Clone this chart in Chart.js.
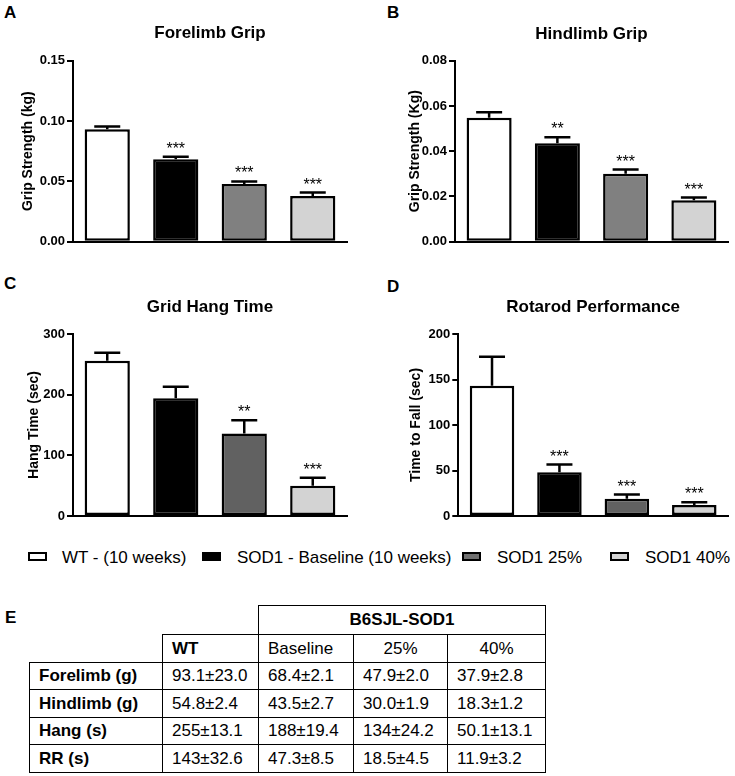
<!DOCTYPE html>
<html>
<head>
<meta charset="utf-8">
<script src="https://cdn.jsdelivr.net/npm/chart.js@4.4.0/dist/chart.umd.min.js"></script>
<style>
  body { margin: 0; background: #fff; width: 735px; height: 776px; position: relative; overflow: hidden;
         font-family: "Liberation Sans", Arial, sans-serif; color: #000; }
  canvas { position: absolute; }
  .tag { position: absolute; font-weight: bold; font-size: 17px; line-height: 17px; }
  .leg-box { position: absolute; top: 552px; width: 15px; height: 4.5px; border: 2.5px solid #000; }
  .leg-txt { position: absolute; top: 547px; font-size: 17px; line-height: 22px; white-space: nowrap; }
  table { position: absolute; left: 29px; top: 605px; border-collapse: collapse; table-layout: fixed; font-size: 17px; }
  td { padding: 0 0 0 9px; border: 1.5px solid #000; white-space: nowrap; vertical-align: middle; }
  td.blank { border: none; }
  td.b { font-weight: bold; }
  td.c { text-align: center; padding: 0; }
</style>
</head>
<body>
<div class="tag" style="left:4px;top:4px">A</div>
<div class="tag" style="left:387px;top:4px">B</div>
<div class="tag" style="left:4px;top:275px">C</div>
<div class="tag" style="left:387px;top:278px">D</div>
<div class="tag" style="left:5px;top:609px">E</div>

<canvas id="cA" width="365" height="254" style="left:0;top:0"></canvas>
<canvas id="cB" width="370" height="254" style="left:365px;top:0"></canvas>
<canvas id="cC" width="365" height="268" style="left:0;top:260px"></canvas>
<canvas id="cD" width="370" height="268" style="left:365px;top:260px"></canvas>

<div id="legend"></div>
<table id="tbl"></table>

<script>
// groups shown in every panel
const groups = ['WT - (10 weeks)', 'SOD1 - Baseline (10 weeks)', 'SOD1 25%', 'SOD1 40%'];

// A - forelimb grip (kg)
const foreMean = [0.0931, 0.0684, 0.0479, 0.0379];
const foreErr = [0.0023, 0.0021, 0.0020, 0.0028];
const foreStars = ['', '***', '***', '***'];
const foreTicks = [0, 0.05, 0.10, 0.15];

// B - hindlimb grip (kg)
const hindMean = [0.0548, 0.0435, 0.0300, 0.0183];
const hindErr = [0.0024, 0.0027, 0.0019, 0.0012];
const hindStars = ['', '**', '***', '***'];
const hindTicks = [0, 0.02, 0.04, 0.06, 0.08];

// C - grid hang time (sec)
const hangMean = [256, 194, 136, 50];
const hangErr = [13, 19, 22, 13];
const hangStars = ['', '', '**', '***'];
const hangTicks = [0, 100, 200, 300];

// D - rotarod (sec)
const rrMean = [143, 48, 19, 12];
const rrErr = [32, 8.5, 4.5, 3];
const rrStars = ['', '***', '***', '***'];
const rrTicks = [0, 50, 100, 150, 200];

// E - table
const tblGroup = 'B6SJL-SOD1';
const tblCols = ['WT', 'Baseline', '25%', '40%'];
const tblRows = ['Forelimb (g)', 'Hindlimb (g)', 'Hang (s)', 'RR (s)'];
const tblVals = [
  ['93.1±23.0', '68.4±2.1', '47.9±2.0', '37.9±2.8'],
  ['54.8±2.4', '43.5±2.7', '30.0±1.9', '18.3±1.2'],
  ['255±13.1', '188±19.4', '134±24.2', '50.1±13.1'],
  ['143±32.6', '47.3±8.5', '18.5±4.5', '11.9±3.2']
];

const FONT = '"Liberation Sans", Arial, sans-serif';
Chart.defaults.font.family = FONT;
Chart.defaults.color = '#000';

const fillLight = ['#ffffff', '#000000', '#808080', '#d3d3d3'];
const fillDark = ['#ffffff', '#000000', '#616161', '#d3d3d3'];

// error bars + significance stars on top of the bars
const errorBars = {
  id: 'errorBars',
  afterDatasetsDraw(chart) {
    const ctx = chart.ctx;
    const y = chart.scales.y;
    const ds = chart.data.datasets[0];
    const meta = chart.getDatasetMeta(0);
    ctx.save();
    ctx.strokeStyle = '#000';
    ctx.lineWidth = 2.5;
    ctx.fillStyle = '#000';
    ctx.font = '16px ' + FONT;
    ctx.textAlign = 'center';
    ctx.textBaseline = 'alphabetic';
    meta.data.forEach((bar, i) => {
      const top = y.getPixelForValue(ds.data[i] + ds.errors[i]);
      const half = 13;
      ctx.beginPath();
      ctx.moveTo(bar.x, bar.y);
      ctx.lineTo(bar.x, top);
      ctx.moveTo(bar.x - half, top);
      ctx.lineTo(bar.x + half, top);
      ctx.stroke();
      if (ds.stars[i]) ctx.fillText(ds.stars[i], bar.x, top - 3);
    });
    ctx.restore();
  }
};

function panel(cfg) {
  const canvas = document.getElementById(cfg.id);
  const W = canvas.width, H = canvas.height;
  const tLine = 17 * 1.2;
  const padLeft = cfg.yTitleX - 14 * 1.2 / 2;
  const padTop = cfg.titleY - tLine / 2;
  const gap = cfg.top - cfg.titleY - tLine / 2;
  new Chart(canvas, {
    type: 'bar',
    data: {
      labels: groups,
      datasets: [{
        data: cfg.mean,
        errors: cfg.err,
        stars: cfg.stars,
        backgroundColor: cfg.fill,
        borderColor: '#000',
        borderWidth: 2.5,
        borderSkipped: false,
        barPercentage: 0.66,
        categoryPercentage: 1
      }]
    },
    options: {
      responsive: false,
      animation: false,
      devicePixelRatio: 1,
      layout: { padding: { left: padLeft, top: padTop, right: W - cfg.right, bottom: H - cfg.bottom } },
      plugins: {
        legend: { display: false },
        tooltip: { enabled: false },
        title: {
          display: true, text: cfg.title, fullSize: false, color: '#000',
          font: { size: 17, weight: 'bold' }, padding: { top: 0, bottom: gap }
        }
      },
      scales: {
        x: {
          ticks: { display: false },
          grid: { display: false },
          border: { display: true, color: '#000', width: 2 },
          afterFit: s => { s.height = 0; }
        },
        y: {
          min: cfg.ticks[0],
          max: cfg.ticks[cfg.ticks.length - 1],
          afterBuildTicks: s => { s.ticks = cfg.ticks.map(v => ({ value: v })); },
          afterFit: s => { s.width = cfg.axisX - padLeft; },
          ticks: {
            padding: 2, color: '#000',
            font: { size: 13, weight: 'bold' },
            callback: v => Number(v).toFixed(cfg.dec)
          },
          grid: { drawOnChartArea: false, drawTicks: true, tickLength: 6, color: '#000', lineWidth: 2 },
          border: { display: true, color: '#000', width: 2 },
          title: {
            display: true, text: cfg.yTitle, color: '#000',
            font: { size: 14, weight: 'bold' }, padding: 0
          }
        }
      }
    },
    plugins: [errorBars]
  });
}

panel({ id: 'cA', title: 'Forelimb Grip', yTitle: 'Grip Strength (kg)', mean: foreMean, err: foreErr,
        stars: foreStars, ticks: foreTicks, dec: 2, fill: fillLight,
        axisX: 73, yTitleX: 28, titleY: 33, top: 60.7, bottom: 241.7, right: 347 });
panel({ id: 'cB', title: 'Hindlimb Grip', yTitle: 'Grip Strength (Kg)', mean: hindMean, err: hindErr,
        stars: hindStars, ticks: hindTicks, dec: 2, fill: fillLight,
        axisX: 90, yTitleX: 50, titleY: 34, top: 60.7, bottom: 241.7, right: 363 });
panel({ id: 'cC', title: 'Grid Hang Time', yTitle: 'Hang Time (sec)', mean: hangMean, err: hangErr,
        stars: hangStars, ticks: hangTicks, dec: 0, fill: fillDark,
        axisX: 73, yTitleX: 34, titleY: 47.7, top: 74, bottom: 256, right: 347 });
panel({ id: 'cD', title: 'Rotarod Performance', yTitle: 'Time to Fall (sec)', mean: rrMean, err: rrErr,
        stars: rrStars, ticks: rrTicks, dec: 0, fill: fillDark,
        axisX: 93.3, yTitleX: 50.8, titleY: 47.7, top: 74, bottom: 256, right: 363 });

// shared legend
const legBoxX = [28, 202, 462, 610];
const legTxtX = [62, 237, 497, 645];
const legFill = ['#ffffff', '#000000', '#707070', '#d3d3d3'];
const legend = document.getElementById('legend');
groups.forEach((g, i) => {
  const b = document.createElement('div');
  b.className = 'leg-box';
  b.style.left = legBoxX[i] + 'px';
  b.style.background = legFill[i];
  legend.appendChild(b);
  const t = document.createElement('div');
  t.className = 'leg-txt';
  t.style.left = legTxtX[i] + 'px';
  t.textContent = g;
  legend.appendChild(t);
});

// table E
const colW = [133, 96, 95, 94, 98];
const rowH = [29, 28, 27, 28, 27, 28];
let html = '<colgroup>' + colW.map(w => '<col style="width:' + w + 'px">').join('') + '</colgroup>';
html += '<tr style="height:' + rowH[0] + 'px"><td class="blank" colspan="2"></td>' +
        '<td class="b c" colspan="3">' + tblGroup + '</td></tr>';
html += '<tr style="height:' + rowH[1] + 'px"><td class="blank"></td>' +
        tblCols.map((c, j) => '<td class="' + (j === 0 ? 'b' : (j > 1 ? 'c' : '')) + '">' + c + '</td>').join('') + '</tr>';
tblRows.forEach((r, i) => {
  html += '<tr style="height:' + rowH[i + 2] + 'px"><td class="b">' + r + '</td>' +
          tblVals[i].map(v => '<td>' + v + '</td>').join('') + '</tr>';
});
document.getElementById('tbl').innerHTML = html;
</script>
</body>
</html>
